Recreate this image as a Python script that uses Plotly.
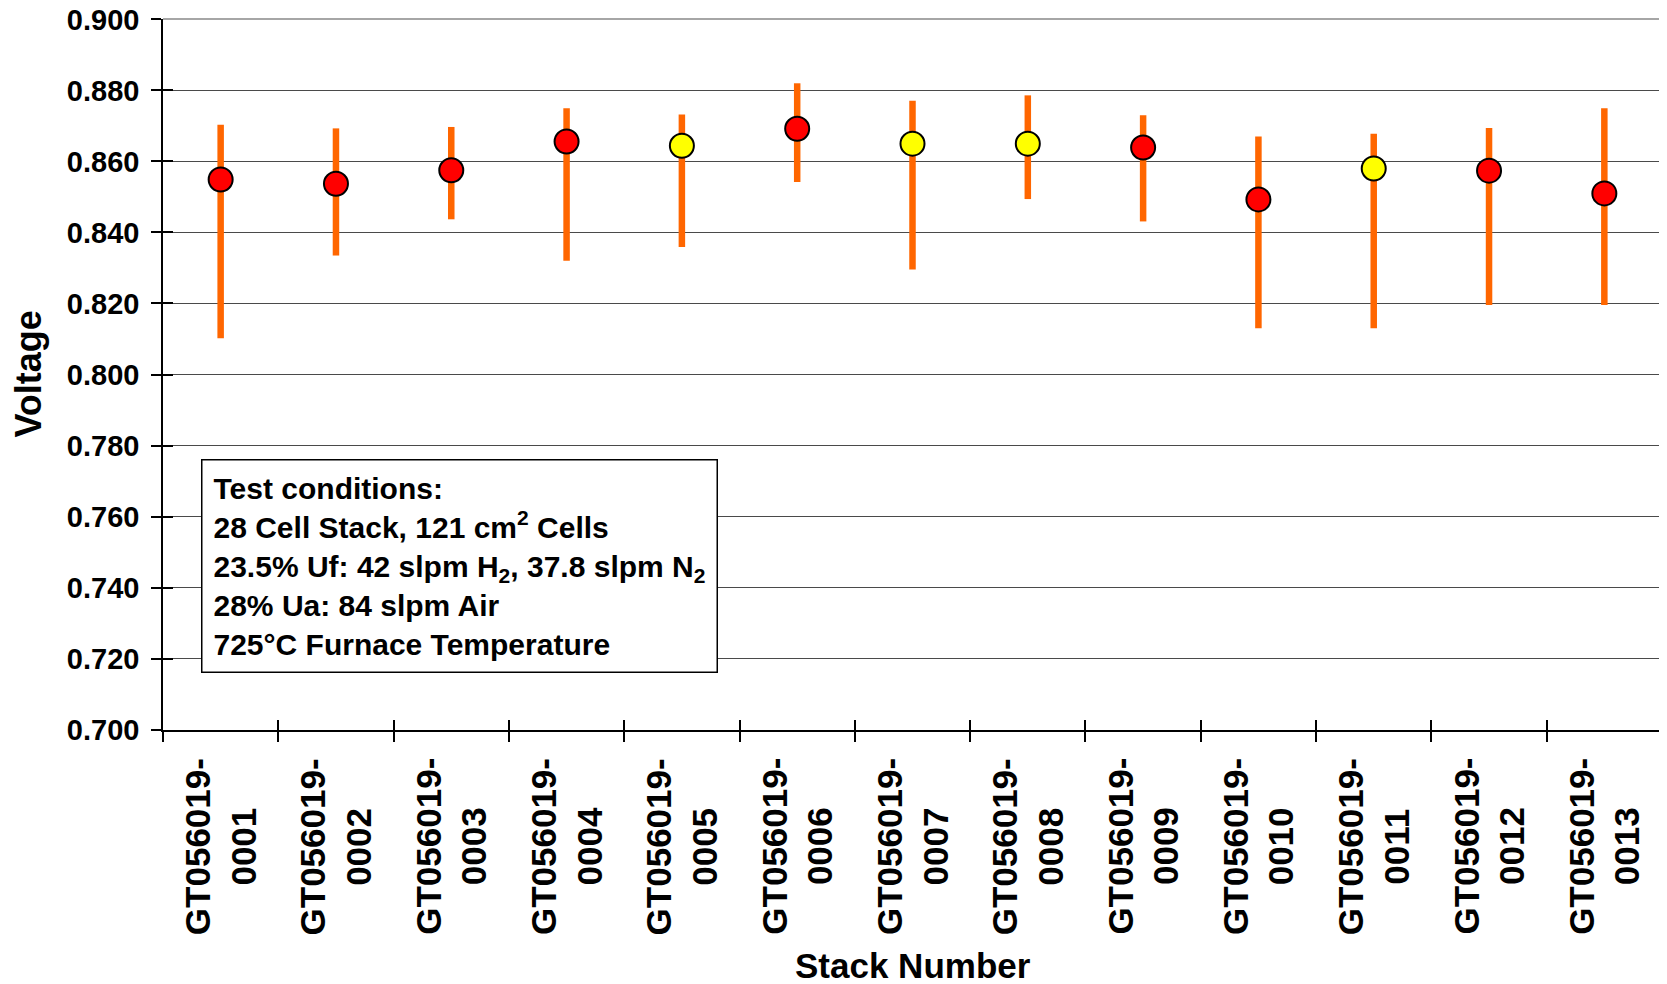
import plotly.graph_objects as go

stacks = ["GT056019-0001", "GT056019-0002", "GT056019-0003", "GT056019-0004",
          "GT056019-0005", "GT056019-0006", "GT056019-0007", "GT056019-0008",
          "GT056019-0009", "GT056019-0010", "GT056019-0011", "GT056019-0012",
          "GT056019-0013"]
mean_v = [0.8549, 0.8537, 0.8575, 0.8656, 0.8644, 0.8692, 0.8650, 0.8650,
          0.8639, 0.8493, 0.8580, 0.8574, 0.8510]
max_v = [0.8703, 0.8693, 0.8697, 0.8750, 0.8732, 0.8820, 0.8771, 0.8786,
         0.8730, 0.8670, 0.8678, 0.8694, 0.8750]
min_v = [0.8102, 0.8335, 0.8437, 0.8320, 0.8359, 0.8542, 0.8296, 0.8494,
         0.8431, 0.8130, 0.8130, 0.8196, 0.8196]
group = ["A", "A", "A", "A", "B", "A", "B", "B", "A", "A", "B", "A", "A"]
y_ticks = [0.70, 0.72, 0.74, 0.76, 0.78, 0.80, 0.82, 0.84, 0.86, 0.88, 0.90]

group_colors = {"A": "#FF0000", "B": "#FFFF00"}
FONT = "Liberation Sans, Arial, sans-serif"

err_plus = [h - m for h, m in zip(max_v, mean_v)]
err_minus = [m - l for m, l in zip(mean_v, min_v)]

fig = go.Figure()
fig.add_trace(go.Scatter(
    x=stacks, y=mean_v, mode="markers",
    marker=dict(size=24, color=[group_colors[g] for g in group],
                line=dict(color="black", width=2)),
    error_y=dict(type="data", symmetric=False, array=err_plus,
                 arrayminus=err_minus, color="#FF6600", thickness=6.5, width=0),
    showlegend=False,
))
# invisible twin trace to carry the crossing half of the tick marks
fig.add_trace(go.Scatter(
    x=stacks, y=mean_v, mode="markers", xaxis="x2", yaxis="y2",
    marker=dict(opacity=0), hoverinfo="skip", showlegend=False,
))

axis_common = dict(showline=True, linecolor="black", linewidth=1.5,
                   tickcolor="black", tickwidth=1.5, ticklen=10,
                   automargin=False)

# page body has an 8px margin; figure sized to fill the rest of the window
fig.update_layout(
    width=1659, height=976,
    margin=dict(l=155, r=5, t=11, b=254, autoexpand=False),
    plot_bgcolor="white", paper_bgcolor="white",
    font=dict(family=FONT, color="black", weight="bold"),
    xaxis=dict(type="category", categoryorder="array", categoryarray=stacks,
               range=[-0.5, len(stacks) - 0.5], tickson="boundaries",
               ticks="outside", showticklabels=False, showgrid=False,
               zeroline=False, **axis_common),
    yaxis=dict(range=[0.6999, 0.9001], tickvals=y_ticks, tickformat=".3f",
               ticks="outside", tickfont=dict(size=29, family=FONT, weight="bold"),
               ticklabelstandoff=6, ticklabeloverflow="allow",
               showgrid=True, gridcolor="#4a4a4a", gridwidth=1,
               zeroline=False, **axis_common),
    xaxis2=dict(type="category", categoryorder="array", categoryarray=stacks,
                range=[-0.5, len(stacks) - 0.5], tickson="boundaries",
                overlaying="x", ticks="inside", showticklabels=False,
                showgrid=False, zeroline=False, **axis_common),
    yaxis2=dict(range=[0.6999, 0.9001], tickvals=y_ticks, overlaying="y",
                ticks="inside", showticklabels=False, showgrid=False,
                zeroline=False, **axis_common),
)

# top gridline and right border of the plot area
fig.add_shape(type="line", xref="paper", yref="paper", x0=0, x1=1, y0=1, y1=1,
              line=dict(color="#888888", width=1.5))
fig.add_shape(type="line", xref="paper", yref="paper", x0=1, x1=1, y0=0, y1=1,
              line=dict(color="#888888", width=1.5))

# category labels, rotated, centred lines
for s in stacks:
    a, b = s.split("-")
    fig.add_annotation(x=s, xref="x", y=0, yref="paper", yanchor="top",
                       yshift=-26, text=a + "-<br>" + b, textangle=-90,
                       align="center", showarrow=False,
                       font=dict(size=35, family=FONT, weight="bold"))

fig.add_annotation(text="Stack Number", xref="paper", yref="paper",
                   x=0.5, y=0, yanchor="middle", yshift=-235, showarrow=False,
                   font=dict(size=35, family=FONT, weight="bold"))
fig.add_annotation(text="Voltage", xref="paper", yref="paper",
                   x=0, xanchor="center", xshift=-135, y=0.5, textangle=-90,
                   showarrow=False, font=dict(size=36, family=FONT, weight="bold"))

box_text = ("Test conditions:<br>"
            "28 Cell Stack, 121 cm<sup>2</sup> Cells<br>"
            "23.5% Uf: 42 slpm H<sub>2</sub>, 37.8 slpm N<sub>2</sub><br>"
            "28% Ua: 84 slpm Air<br>"
            "725°C Furnace Temperature")
fig.add_annotation(text=box_text, xref="paper", yref="paper",
                   x=(201 - 163) / 1499, y=(730 - 459) / 711,
                   xanchor="left", yanchor="top", align="left", showarrow=False,
                   bordercolor="black", borderwidth=1.5, borderpad=11,
                   bgcolor="white",
                   font=dict(size=30, family=FONT, weight="bold"))

fig.write_html("out.html")
